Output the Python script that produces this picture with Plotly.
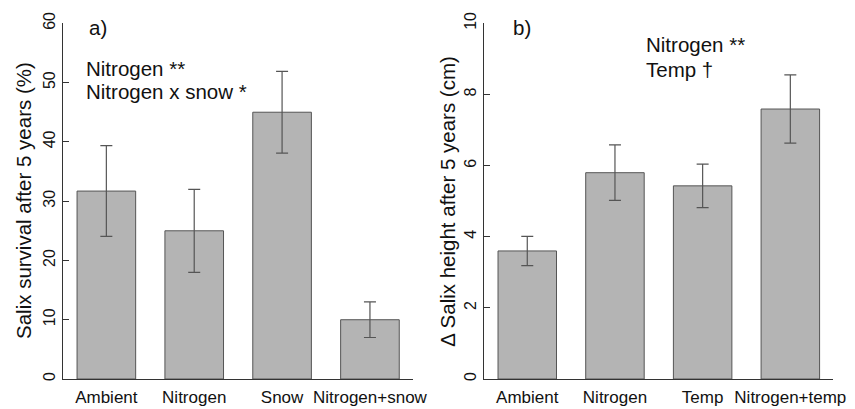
import plotly.graph_objects as go

# Panel a data
cats_a = ["Ambient", "Nitrogen", "Snow", "Nitrogen+snow"]
surv = [31.7, 25.0, 45.0, 10.0]
surv_err = [7.65, 7.0, 6.9, 3.0]

# Panel b data
cats_b = ["Ambient", "Nitrogen", "Temp", "Nitrogen+temp"]
height = [3.6, 5.8, 5.43, 7.59]
height_err = [0.41, 0.78, 0.61, 0.96]

yticks_a = [0, 10, 20, 30, 40, 50, 60]
yticks_b = [0, 2, 4, 6, 8, 10]

FONT = "Liberation Sans, Arial, Helvetica, sans-serif"
BAR = "#b4b4b4"
EDGE = "#555555"
AX = "#333333"

fig = go.Figure()
for cats, vals, errs, xa, ya in [(cats_a, surv, surv_err, "x", "y"),
                                  (cats_b, height, height_err, "x2", "y2")]:
    fig.add_trace(go.Bar(
        x=list(range(len(cats))), y=vals, width=0.667,
        marker=dict(color=BAR, line=dict(color=EDGE, width=1)),
        error_y=dict(type="data", array=errs, visible=True, color="#555555",
                     thickness=1.2, width=6),
        xaxis=xa, yaxis=ya, showlegend=False,
    ))

dom_y = [1 - 379 / 409, 1 - 23.3 / 409]
common_x = dict(showline=True, linecolor=AX, linewidth=1, ticks="", showgrid=False,
                zeroline=False, range=[-0.49, 3.49], tickmode="array", automargin=False,
                tickvals=[0, 1, 2, 3], tickfont=dict(size=17, color="#111", family=FONT),
                ticklabelstandoff=3)
common_y = dict(showline=True, linecolor=AX, linewidth=1, ticks="inside", ticklen=6,
                tickcolor=AX, showgrid=False, zeroline=False, tickangle=-90, automargin=False,
                tickfont=dict(size=16, color="#111", family=FONT), domain=dom_y,
                ticklabelstandoff=1)

fig.update_layout(
    width=855, height=409,
    margin=dict(l=0, r=0, t=0, b=0, autoexpand=False),
    paper_bgcolor="white", plot_bgcolor="white",
    font=dict(family=FONT, color="#111"),
    xaxis=dict(domain=[63.3 / 855, 413 / 855], ticktext=cats_a, anchor="y", **common_x),
    xaxis2=dict(domain=[484.3 / 855, 833.3 / 855], ticktext=cats_b, anchor="y2", **common_x),
    yaxis=dict(range=[0, 60], tickvals=yticks_a, anchor="x", **common_y),
    yaxis2=dict(range=[0, 10], tickvals=yticks_b, anchor="x2", **common_y),
)

ycen = 1 - 201 / 409
fig.add_annotation(xref="paper", yref="paper", x=23 / 855, y=ycen, textangle=-90,
                   text="Salix survival after 5 years (%)", showarrow=False,
                   xanchor="center", yanchor="middle",
                   font=dict(size=20.5, color="#111", family=FONT))
fig.add_annotation(xref="paper", yref="paper", x=446.7 / 855, y=ycen, textangle=-90,
                   text="\u0394 Salix height after 5 years (cm)", showarrow=False,
                   xanchor="center", yanchor="middle",
                   font=dict(size=20.5, color="#111", family=FONT))

annots = [
    ("x domain", "y domain", 0.068, 0.987, "a)"),
    ("x domain", "y domain", 0.058, 0.874, "Nitrogen **"),
    ("x domain", "y domain", 0.058, 0.807, "Nitrogen x snow *"),
    ("x2 domain", "y2 domain", 0.077, 0.987, "b)"),
    ("x2 domain", "y2 domain", 0.457, 0.939, "Nitrogen **"),
    ("x2 domain", "y2 domain", 0.457, 0.869, "Temp \u2020"),
]
for xr, yr, x, y, t in annots:
    fig.add_annotation(xref=xr, yref=yr, x=x, y=y, text=t, showarrow=False,
                       xanchor="left", yanchor="middle",
                       font=dict(size=20.5, color="#111", family=FONT))

fig.write_html("out.html")
